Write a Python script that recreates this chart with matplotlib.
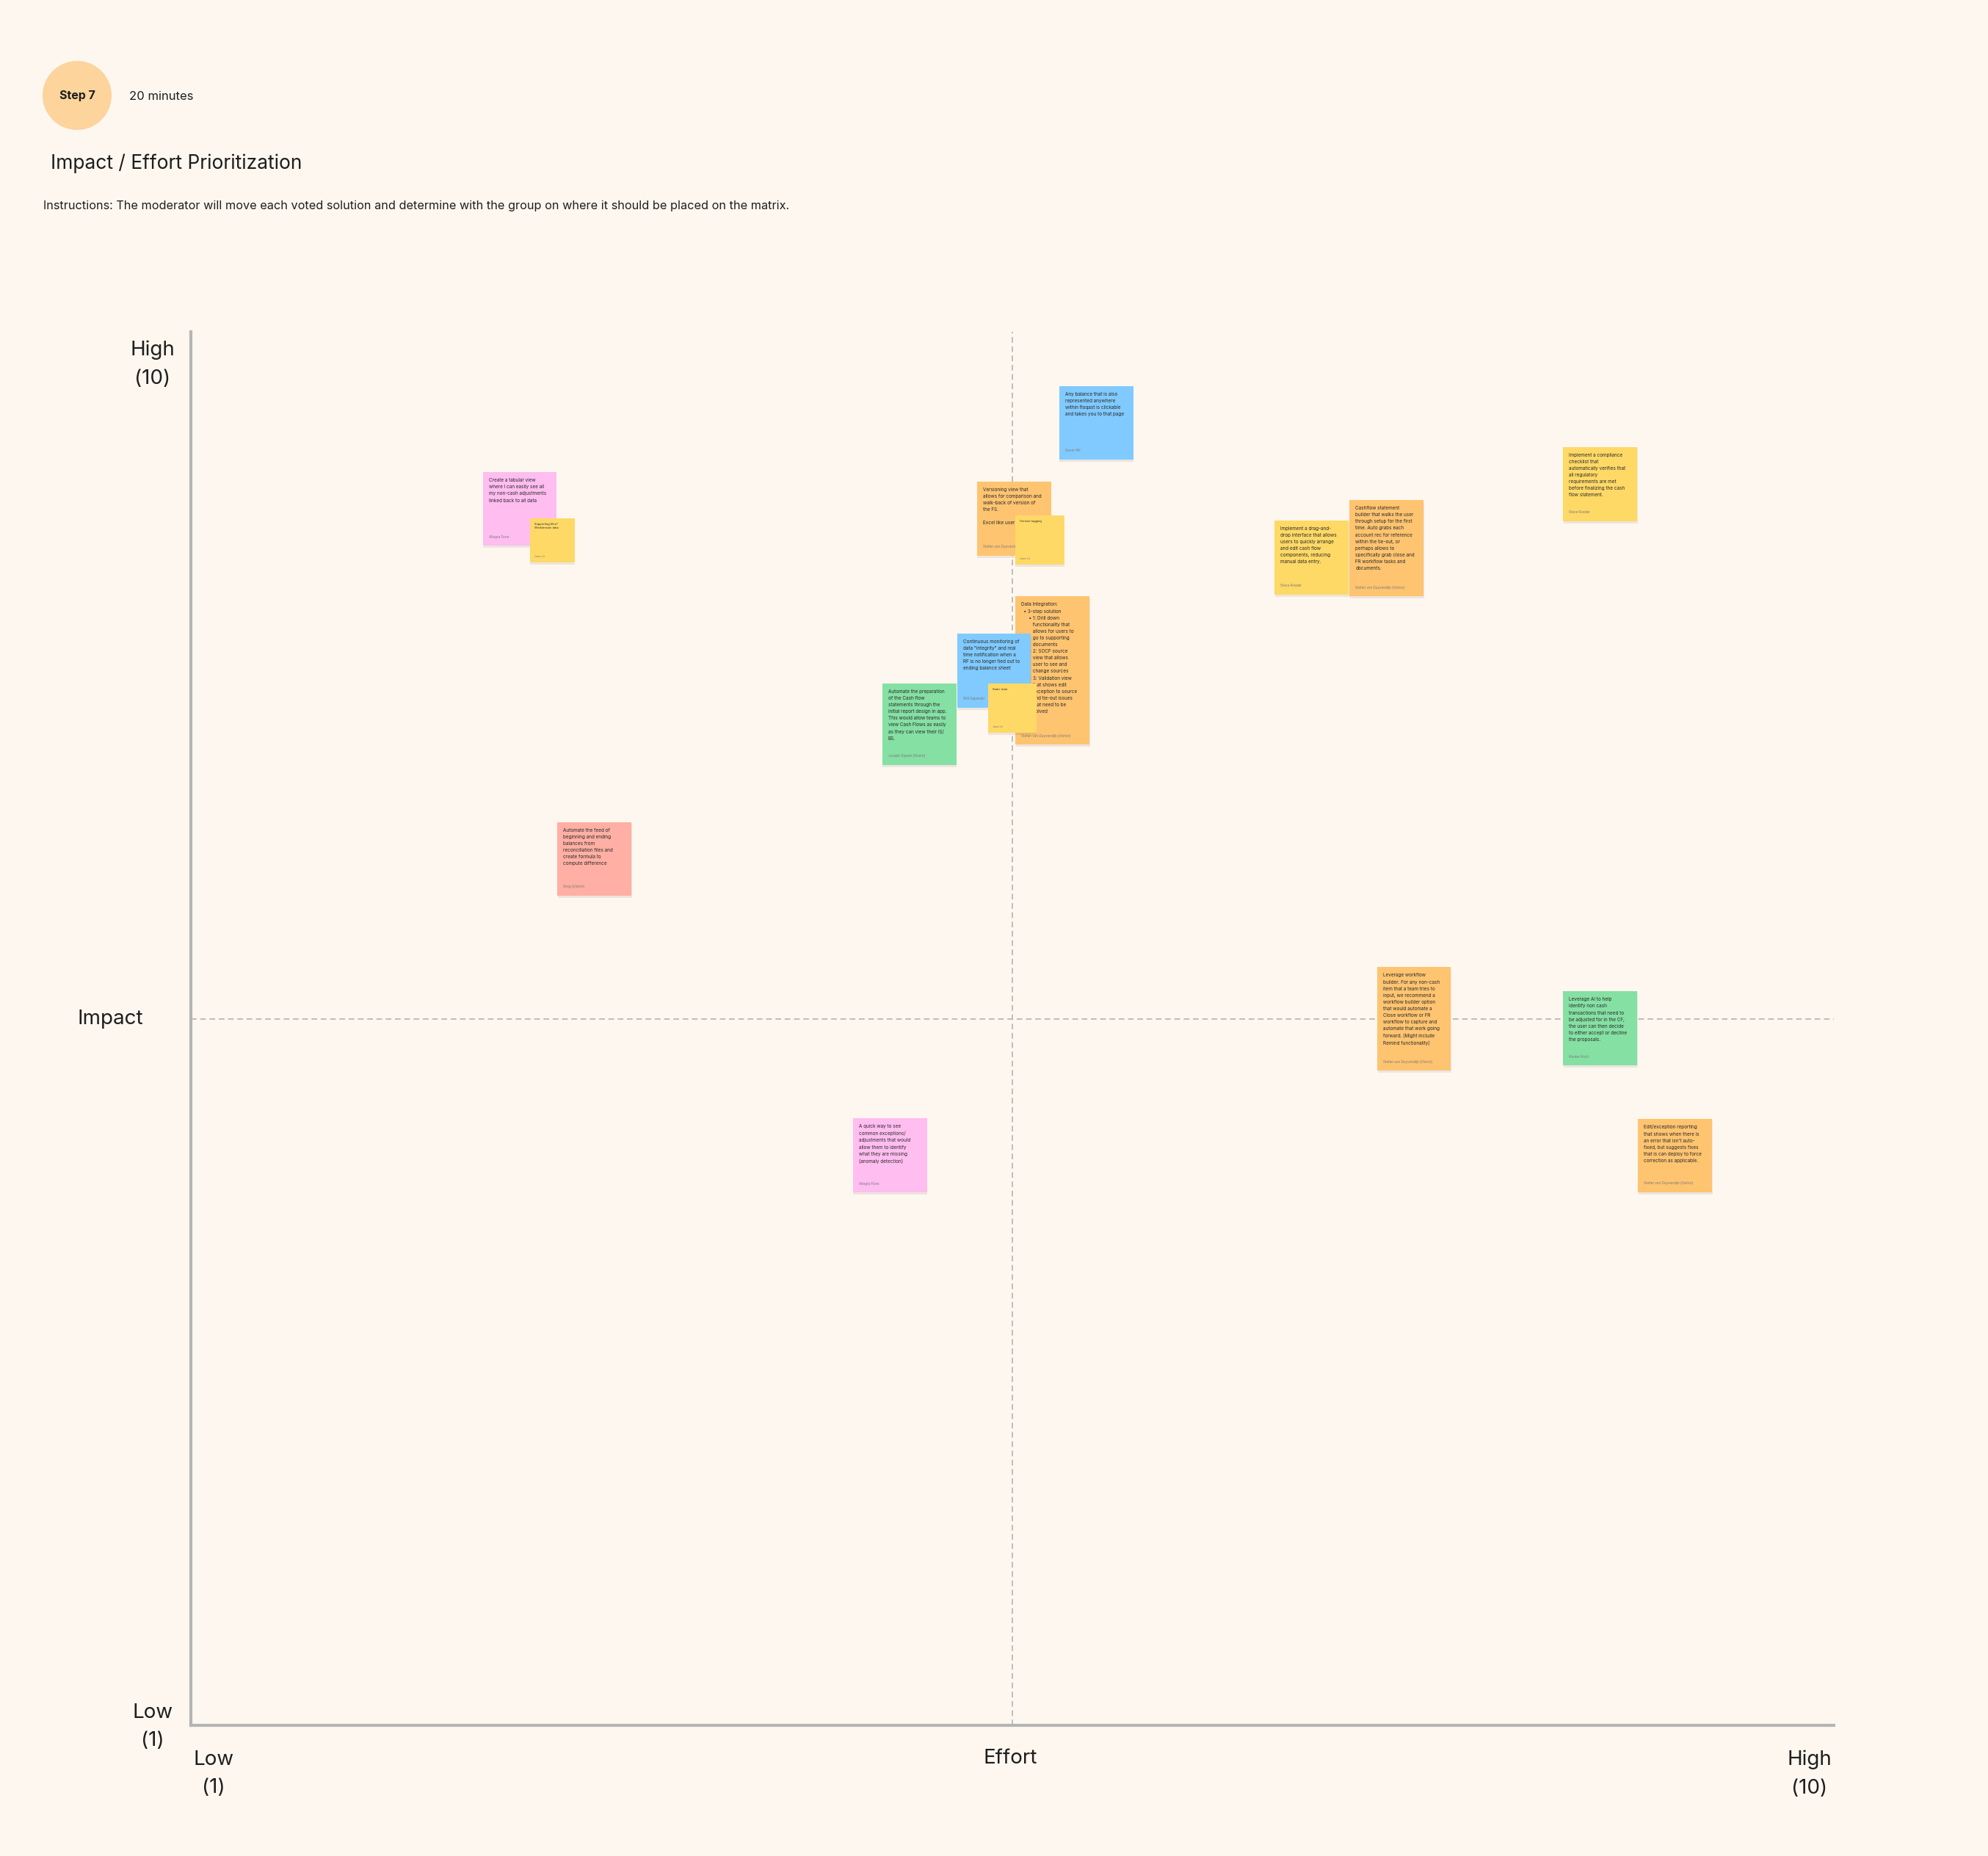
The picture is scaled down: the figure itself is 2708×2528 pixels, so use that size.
import matplotlib
matplotlib.use("Agg")
import matplotlib.pyplot as plt
from matplotlib.patches import Rectangle, Circle

plt.rcParams['font.family'] = ['Inter', 'DejaVu Sans']

# ---------------------------------------------------------------
# data: each voted idea placed on the effort / impact matrix (1..10)
# ---------------------------------------------------------------
effort_range = [1, 10]
impact_range = [1, 10]
effort_mid = 5.5
impact_mid = 5.5

note_texts = [
    "Create a tabular view\nwhere I can easily see all\nmy non-cash adjustments\nlinked back to all data",
    "Supporting files?\nWorkstream data",
    "Any balance that is also\nrepresented anywhere\nwithin floqast is clickable\nand takes you to that page",
    "Versioning view that\nallows for comparison and\nwalk-back of version of\nthe FS.\n\nExcel like user",
    "Version tagging",
    "Data Integration:\n  \u2022 3-step solution\n      \u25aa 1: Drill down\n         functionality that\n         allows for users to\n         go to supporting\n         documents\n      \u25aa 2: SOCF source\n         view that allows\n         user to see and\n         change sources\n      \u25aa 3: Validation view\n         that shows edit\n         exception to source\n         and tie-out issues\n         that need to be\n         solved",
    "Continuous monitoring of\ndata \"integrity\" and real\ntime notification when a\nRF is no longer tied out to\nending balance sheet",
    "Automate the preparation\nof the Cash flow\nstatements through the\ninitial report design in app.\nThis would allow teams to\nview Cash Flows as easily\nas they can view their IS/\nBS.",
    "Static data",
    "Implement a drag-and-\ndrop interface that allows\nusers to quickly arrange\nand edit cash flow\ncomponents, reducing\nmanual data entry.",
    "Cashflow statement\nbuilder that walks the user\nthrough setup for the first\ntime. Auto grabs each\naccount rec for reference\nwithin the tie-out, or\nperhaps allows to\nspecifically grab close and\nFR workflow tasks and\ndocuments.",
    "Implement a compliance\nchecklist that\nautomatically verifies that\nall regulatory\nrequirements are met\nbefore finalizing the cash\nflow statement.",
    "Automate the feed of\nbeginning and ending\nbalances from\nreconciliation files and\ncreate formula to\ncompute difference",
    "Leverage workflow\nbuilder. For any non-cash\nitem that a team tries to\ninput, we recommend a\nworkflow builder option\nthat would automate a\nClose workflow or FR\nworkflow to capture and\nautomate that work going\nforward. (Might include\nRemind functionality)",
    "Leverage AI to help\nidentify non cash\ntransactions that need to\nbe adjusted for in the CF,\nthe user can then decide\nto either accept or decline\nthe proposals.",
    "Edit/exception reporting\nthat shows when there is\nan error that isn't auto-\nfixed, but suggests fixes\nthat is can deploy to force\ncorrection as applicable.",
    "A quick way to see\ncommon exceptions/\nadjustments that would\nallow them to identify\nwhat they are missing\n(anomaly detection)",
]
note_authors = [
    "Allegra Fiore", "Jason Lie", "Gavin Hill",
    "Stefan van Duyvendijk (Visitor)", "Jason Lie",
    "Stefan van Duyvendijk (Visitor)", "Will Gajewski",
    "Joseph Giyesti (Visitor)", "Jason Lie", "Steve Roeder",
    "Stefan van Duyvendijk (Visitor)", "Steve Roeder", "Greg (Visitor)",
    "Stefan van Duyvendijk (Visitor)", "Hunter Koch",
    "Stefan van Duyvendijk (Visitor)", "Allegra Fiore",
]
note_colors = ["pink", "yellow", "blue", "orange", "yellow", "orange", "blue",
               "green", "yellow", "yellow", "orange", "yellow", "red",
               "orange", "green", "orange", "pink"]
note_effort = [2.80, 2.98, 5.96, 5.51, 5.65, 5.72, 5.40, 4.99, 5.50, 7.14,
               7.55, 8.72, 3.21, 7.70, 8.72, 9.13, 4.83]
note_impact = [8.75, 8.55, 9.30, 8.69, 8.55, 7.72, 7.72, 7.38, 7.48, 8.44,
               8.50, 8.91, 6.52, 5.50, 5.44, 4.63, 4.63]

# ---------------------------------------------------------------
# styling
# ---------------------------------------------------------------
W, H, DPI = 2708, 2528, 100
BG = '#FEF7EF'
INK = '#1E1E1E'
AXIS_GREY = '#B5B5B5'
palette = {'pink': '#FFBDF0', 'yellow': '#FFD966', 'blue': '#80CAFF',
           'orange': '#FFC470', 'green': '#85E0A3', 'red': '#FFAFA3'}
# sticky sizes in pixels (w, h), same order as the notes
note_w_px = [100, 61, 101, 101, 67, 101, 100, 101, 66, 101, 101, 101, 101, 100, 101, 101, 101]
note_h_px = [100, 60, 100, 101, 67, 202, 101, 111, 67, 101, 131, 101, 100, 141, 101, 100, 101]

fig = plt.figure(figsize=(W / DPI, H / DPI), dpi=DPI, facecolor=BG)

# full-page canvas in pixel units for the header and axis captions
canvas = fig.add_axes([0, 0, 1, 1])
canvas.set_xlim(0, W)
canvas.set_ylim(H, 0)
canvas.axis('off')

canvas.add_patch(Circle((105, 130), 47, color='#FCD49C', lw=0))
canvas.text(105, 131, 'Step 7', ha='center', va='center', fontsize=11.5,
            weight='bold', color=INK)
canvas.text(176, 131, '20 minutes', ha='left', va='center', fontsize=12, color=INK)
canvas.text(69, 223, 'Impact / Effort Prioritization', ha='left', va='center',
            fontsize=19, color=INK)
canvas.text(59, 281, 'Instructions: The moderator will move each voted solution and '
            'determine with the group on where it should be placed on the matrix.',
            ha='left', va='center', fontsize=11.7, color=INK)

lab = dict(ha='center', va='center', multialignment='center', fontsize=20,
           color=INK, linespacing=1.65)
canvas.text(208, 496, 'High\n(10)', **lab)
canvas.text(150, 1388, 'Impact', **lab)
canvas.text(208, 2352, 'Low\n(1)', **lab)
canvas.text(291, 2416, 'Low\n(1)', **lab)
canvas.text(1376, 2395, 'Effort', **lab)
canvas.text(2465, 2416, 'High\n(10)', **lab)

# ---------------------------------------------------------------
# matrix axes
# ---------------------------------------------------------------
ax = fig.add_axes([260 / W, 1 - 2350 / H, 2238 / W, 1924 / H])
ax.set_xlim(*effort_range)
ax.set_ylim(*impact_range)
ax.patch.set_alpha(0)
for s in ['top', 'right']:
    ax.spines[s].set_visible(False)
for s in ['left', 'bottom']:
    ax.spines[s].set_color(AXIS_GREY)
    ax.spines[s].set_linewidth(3)
y_top = 9.88
ax.spines['left'].set_bounds(impact_range[0], y_top)
ax.set_xticks([])
ax.set_yticks([])

dash = dict(color='#BDBDBD', lw=1.4, ls=(0, (4, 2.5)), zorder=1)
ax.plot([effort_mid, effort_mid], [impact_range[0], y_top], **dash)
ax.plot(effort_range, [impact_mid, impact_mid], **dash)

px_x = 2238 / (effort_range[1] - effort_range[0])
px_y = 1924 / (impact_range[1] - impact_range[0])

for i, txt in enumerate(note_texts):
    w = note_w_px[i] / px_x
    h = note_h_px[i] / px_y
    x0 = note_effort[i] - w / 2
    y0 = note_impact[i] - h / 2
    z = 10 + 4 * i
    small = note_w_px[i] < 80
    # soft drop shadow
    ax.add_patch(Rectangle((x0 + 0.5 / px_x, y0 - 3 / px_y), w, h,
                           color=(0, 0, 0, 0.07), lw=0, zorder=z))
    ax.add_patch(Rectangle((x0, y0), w, h, color=palette[note_colors[i]],
                           lw=0, zorder=z + 1))
    pad = 6 if small else 8
    ax.text(x0 + pad / px_x, y0 + h - pad / px_y, txt, ha='left', va='top',
            fontsize=2.9 if small else 4.6, linespacing=1.5 if small else 1.62,
            color='#2A2A2A', zorder=z + 2)
    ax.text(x0 + pad / px_x, y0 + (8 if small else 12) / px_y, note_authors[i],
            ha='left', va='center', fontsize=2.3 if small else 3.3,
            color='#7A7A7A', zorder=z + 2)

fig.savefig('out.png', dpi=DPI, facecolor=BG)
